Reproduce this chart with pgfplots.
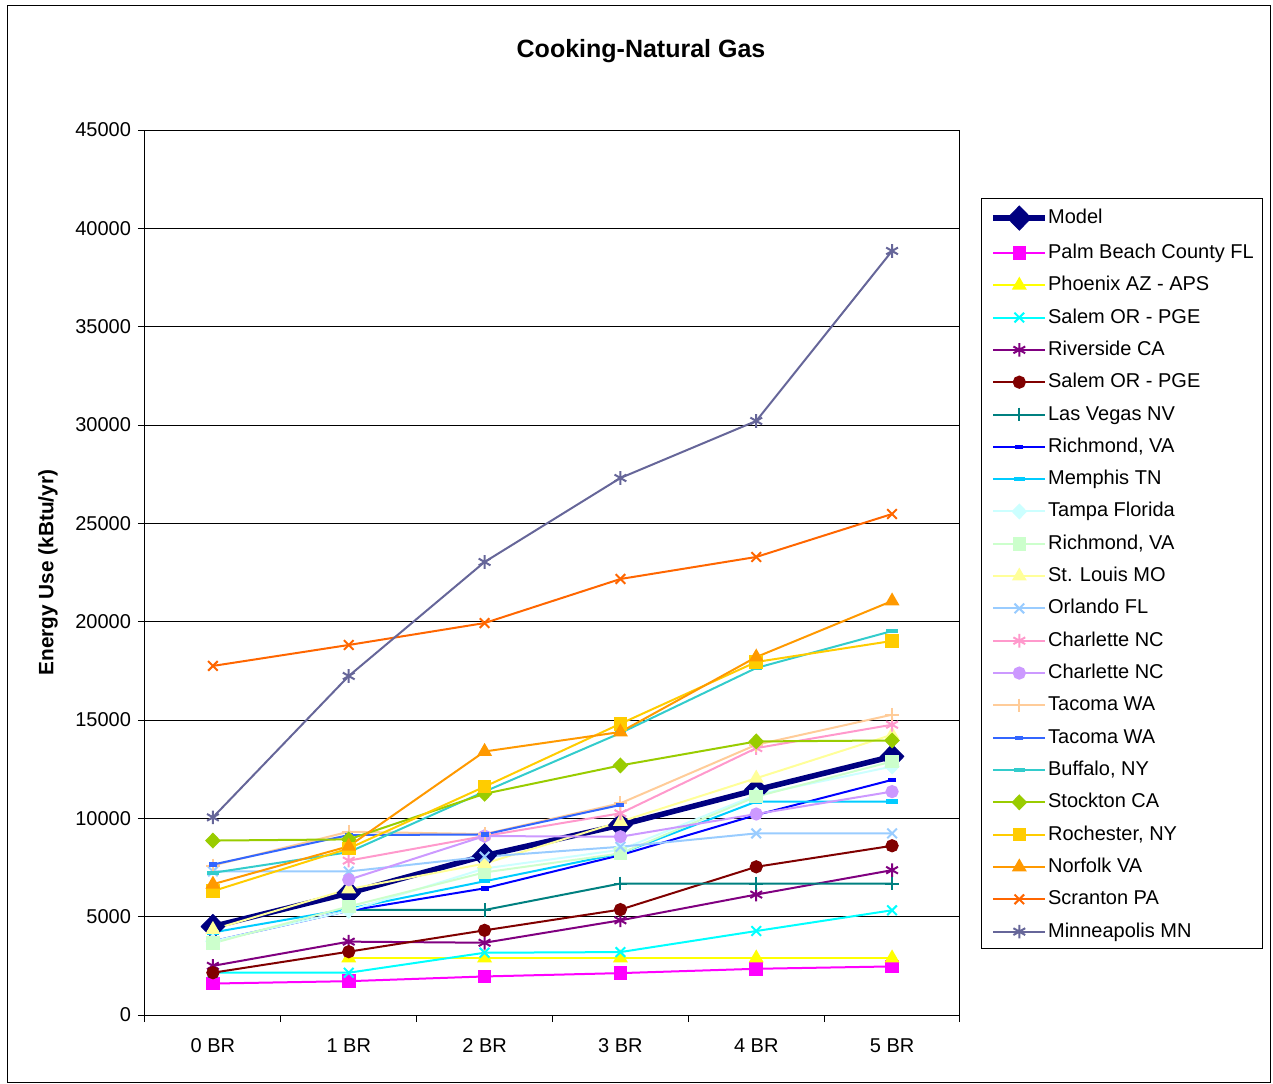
\documentclass[border=0pt]{standalone}
\usepackage{fontspec}
\setmainfont{Liberation Sans}
\usepackage{pgfplots}
\pgfplotsset{compat=1.18}

\definecolor{cModel}{HTML}{000080}
\definecolor{cPalm}{HTML}{FF00FF}
\definecolor{cPhoenix}{HTML}{FFFF00}
\definecolor{cSalemA}{HTML}{00FFFF}
\definecolor{cRiverside}{HTML}{800080}
\definecolor{cSalemB}{HTML}{800000}
\definecolor{cVegas}{HTML}{008080}
\definecolor{cRichA}{HTML}{0000FF}
\definecolor{cMemphis}{HTML}{00CCFF}
\definecolor{cTampa}{HTML}{CCFFFF}
\definecolor{cRichB}{HTML}{CCFFCC}
\definecolor{cStLouis}{HTML}{FFFF99}
\definecolor{cOrlando}{HTML}{99CCFF}
\definecolor{cCharA}{HTML}{FF99CC}
\definecolor{cCharB}{HTML}{CC99FF}
\definecolor{cTacA}{HTML}{FFCC99}
\definecolor{cTacB}{HTML}{3366FF}
\definecolor{cBuffalo}{HTML}{33CCCC}
\definecolor{cStockton}{HTML}{99CC00}
\definecolor{cRochester}{HTML}{FFCC00}
\definecolor{cNorfolk}{HTML}{FF9900}
\definecolor{cScranton}{HTML}{FF6600}
\definecolor{cMinn}{HTML}{666699}

\begin{document}
\begin{tikzpicture}
% 1 px of the reference = 0.5pt, origin at the lower left of the plot box
\useasboundingbox (-72.5pt,-34pt) rectangle (564pt,507.5pt);
\draw[black, line width=0.5pt] (-68.5pt,-33.7pt) rectangle (562.5pt,504.5pt);
\begin{axis}[
    at={(0pt,0pt)}, anchor=south west,
    width=407.5pt, height=442.5pt, scale only axis,
    xmin=-0.5, xmax=5.5, ymin=0, ymax=45000,
    xtick={0,...,5},
    xticklabels={0 BR,1 BR,2 BR,3 BR,4 BR,5 BR},
    major x tick style={draw=none},
    minor xtick={-0.5,0.5,1.5,2.5,3.5,4.5,5.5},
    ytick={0,5000,...,45000},
    tick pos=left,
    tick align=outside,
    major tick length=3.5pt, minor tick length=3.5pt,
    tick style={black, line width=0.5pt},
    ymajorgrids, major grid style={black, line width=0.5pt},
    axis line style={black, line width=0.5pt},
    scaled y ticks=false,
    yticklabel style={/pgf/number format/1000 sep={}},
    /pgf/number format/assume math mode=true,
    ticklabel style={font=\fontsize{10}{12}\selectfont},
    xticklabel style={anchor=center, yshift=-12pt},
    title={Cooking-Natural Gas},
    title style={at={(0.6086,1.0758)}, anchor=center,
        font=\bfseries\fontsize{12.5}{15}\selectfont},
    ylabel={Energy Use (kBtu/yr)},
    every axis y label/.style={at={(axis description cs:-0.1190,0.5)},
        rotate=90, anchor=center, font=\bfseries\fontsize{10.4}{12}\selectfont},
    every axis plot/.append style={line width=1pt, mark size=2.8pt},
    legend style={at={(1.0258,0.9232)}, anchor=north west,
        draw=black, line width=0.5pt, fill=white,
        inner xsep=4.5pt, inner ysep=3.8pt, row sep=6.66pt,
        font=\fontsize{10}{12}\selectfont,
        nodes={inner xsep=0pt, inner ysep=0pt, text height=7.5pt, text depth=2pt}},
    legend cell align=left,
    legend image code/.code={\draw[mark repeat=2,mark phase=2]
        plot coordinates {(0pt,0pt)(13pt,0pt)(26pt,0pt)};},
]
\addplot[cModel, line width=2.8pt, mark=diamond*, mark size=6pt,
    mark options={xscale=1.3, line width=0.5pt}]
    coordinates {(0,4500)(1,6200)(2,8100)(3,9660)(4,11445)(5,13145)};
\addlegendentry{Model}
\addplot[cPalm, mark=square*, mark size=2.9pt]
    coordinates {(0,1600)(1,1720)(2,1960)(3,2130)(4,2350)(5,2470)};
\addlegendentry{Palm Beach County FL}
\addplot[cPhoenix, mark=triangle*, mark size=3.3pt]
    coordinates {(1,2900)(2,2900)(3,2900)(4,2900)(5,2900)};
\addlegendentry{Phoenix AZ - APS}
\addplot[cSalemA, mark=x, mark size=3.4pt]
    coordinates {(0,2150)(1,2150)(2,3166)(3,3200)(4,4270)(5,5325)};
\addlegendentry{Salem OR - PGE}
\addplot[cRiverside, mark=asterisk, mark size=3.4pt]
    coordinates {(0,2500)(1,3730)(2,3675)(3,4815)(4,6125)(5,7365)};
\addlegendentry{Riverside CA}
\addplot[cSalemB, mark=*]
    coordinates {(0,2150)(1,3220)(2,4305)(3,5360)(4,7535)(5,8605)};
\addlegendentry{Salem OR - PGE}
\addplot[cVegas, mark=+, mark size=3.4pt]
    coordinates {(1,5340)(2,5340)(3,6685)(4,6685)(5,6685)};
\addlegendentry{Las Vegas NV}
\addplot[cRichA, mark=-, mark size=2pt, mark options={line width=2.2pt}]
    coordinates {(0,3750)(1,5300)(2,6440)(3,8130)(4,10170)(5,11955)};
\addlegendentry{Richmond, VA}
\addplot[cMemphis, mark=-, mark size=2.8pt, mark options={line width=2.2pt}]
    coordinates {(0,4200)(1,5400)(2,6800)(3,8215)(4,10850)(5,10850)};
\addlegendentry{Memphis TN}
\addplot[cTampa, mark=diamond*, mark size=3.3pt, mark options={xscale=1.3}]
    coordinates {(0,3750)(1,5300)(2,7450)(3,8400)(4,11190)(5,12635)};
\addlegendentry{Tampa Florida}
\addplot[cRichB, mark=square*, mark size=2.9pt]
    coordinates {(0,3650)(1,5520)(2,7250)(3,8215)(4,11105)(5,12890)};
\addlegendentry{Richmond, VA}
\addplot[cStLouis, mark=triangle*, mark size=3.3pt]
    coordinates {(0,4350)(1,6400)(2,7700)(3,9830)(4,12040)(5,14250)};
\addlegendentry{St. Louis MO}
\addplot[cOrlando, mark=x, mark size=3.4pt]
    coordinates {(0,7300)(1,7300)(2,8050)(3,8555)(4,9235)(5,9235)};
\addlegendentry{Orlando FL}
\addplot[cCharA, mark=asterisk, mark size=3.4pt]
    coordinates {(1,7850)(2,9100)(3,10255)(4,13570)(5,14760)};
\addlegendentry{Charlette NC}
\addplot[cCharB, mark=*]
    coordinates {(1,6880)(2,9100)(3,9065)(4,10220)(5,11360)};
\addlegendentry{Charlette NC}
\addplot[cTacA, mark=+, mark size=3.4pt]
    coordinates {(0,7600)(1,9320)(2,9200)(3,10765)(4,13740)(5,15270)};
\addlegendentry{Tacoma WA}
\addplot[cTacB, mark=-, mark size=2pt, mark options={line width=2.2pt}]
    coordinates {(0,7650)(1,9150)(2,9180)(3,10680)};
\addlegendentry{Tacoma WA}
\addplot[cBuffalo, mark=-, mark size=2.8pt, mark options={line width=2.2pt}]
    coordinates {(0,7230)(1,8280)(2,11360)(3,14335)(4,17645)(5,19525)};
\addlegendentry{Buffalo, NY}
\addplot[cStockton, mark=diamond*, mark size=3.3pt, mark options={xscale=1.3}]
    coordinates {(0,8870)(1,8930)(2,11250)(3,12690)(4,13910)(5,13960)};
\addlegendentry{Stockton CA}
\addplot[cRochester, mark=square*, mark size=2.9pt]
    coordinates {(0,6300)(1,8470)(2,11610)(3,14810)(4,17950)(5,19020)};
\addlegendentry{Rochester, NY}
\addplot[cNorfolk, mark=triangle*, mark size=3.3pt]
    coordinates {(0,6650)(1,8580)(2,13400)(3,14390)(4,18200)(5,21050)};
\addlegendentry{Norfolk VA}
\addplot[cScranton, mark=x, mark size=3.4pt]
    coordinates {(0,17750)(1,18815)(2,19930)(3,22170)(4,23290)(5,25475)};
\addlegendentry{Scranton PA}
\addplot[cMinn, mark=asterisk, mark size=3.4pt]
    coordinates {(0,10050)(1,17238)(2,23035)(3,27306)(4,30205)(5,38850)};
\addlegendentry{Minneapolis MN}
\end{axis}
\end{tikzpicture}
\end{document}
